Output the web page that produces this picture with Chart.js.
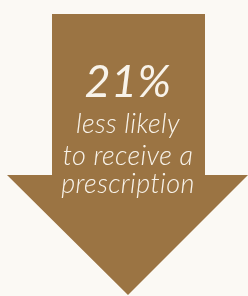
<!DOCTYPE html>
<html>
<head>
<meta charset="utf-8">
<script src="https://cdn.jsdelivr.net/npm/chart.js@4.4.0/dist/chart.umd.min.js"></script>
<style>
  html, body { margin: 0; padding: 0; background: #fbf9f4; }
  #wrap { width: 248px; height: 296px; }
</style>
</head>
<body>
<div id="wrap"><canvas id="arrow" width="248" height="296"></canvas></div>
<script>
// arrow outline (data units, x 0..248, y 0..296 top-down)
const arrowX = [52, 205, 205, 248, 128, 7, 52, 52];
const arrowY = [14, 14, 175, 175, 295, 175, 175, 14];

const bigValue = '21%';
const caption = ['less likely', 'to receive a', 'prescription'];

const points = arrowX.map((x, i) => ({ x: x, y: arrowY[i] }));

const arrowText = {
  id: 'arrowText',
  afterDatasetsDraw(chart, args, opts) {
    const { ctx, scales } = chart;
    const cx = scales.x.getPixelForValue(opts.centerX);
    ctx.save();
    ctx.fillStyle = opts.color;
    ctx.textAlign = 'center';
    ctx.textBaseline = 'alphabetic';
    ctx.letterSpacing = '0.4px'; // also stops the "ti" ligature
    ctx.font = 'italic 400 45px Lato';
    ctx.fillText(bigValue, cx, scales.y.getPixelForValue(opts.valueY));
    ctx.font = 'italic 300 27px Lato';
    caption.forEach((line, i) => {
      ctx.fillText(line, cx, scales.y.getPixelForValue(opts.lineY[i]));
    });
    ctx.restore();
  }
};

new Chart('arrow', {
  type: 'scatter',
  data: {
    datasets: [{
      data: points,
      showLine: true,
      fill: 'shape',
      tension: 0,
      borderWidth: 0,
      pointRadius: 0,
      backgroundColor: '#9b7443',
      borderColor: '#9b7443'
    }]
  },
  options: {
    responsive: false,
    animation: false,
    layout: { padding: 0 },
    plugins: {
      legend: { display: false },
      tooltip: { enabled: false },
      arrowText: {
        centerX: 128,
        valueY: 97,
        lineY: [133, 165, 193],
        color: '#f8f3ea'
      }
    },
    scales: {
      x: { type: 'linear', min: 0, max: 248, display: false },
      y: { type: 'linear', min: 0, max: 296, reverse: true, display: false }
    }
  },
  plugins: [arrowText]
});
</script>
</body>
</html>
